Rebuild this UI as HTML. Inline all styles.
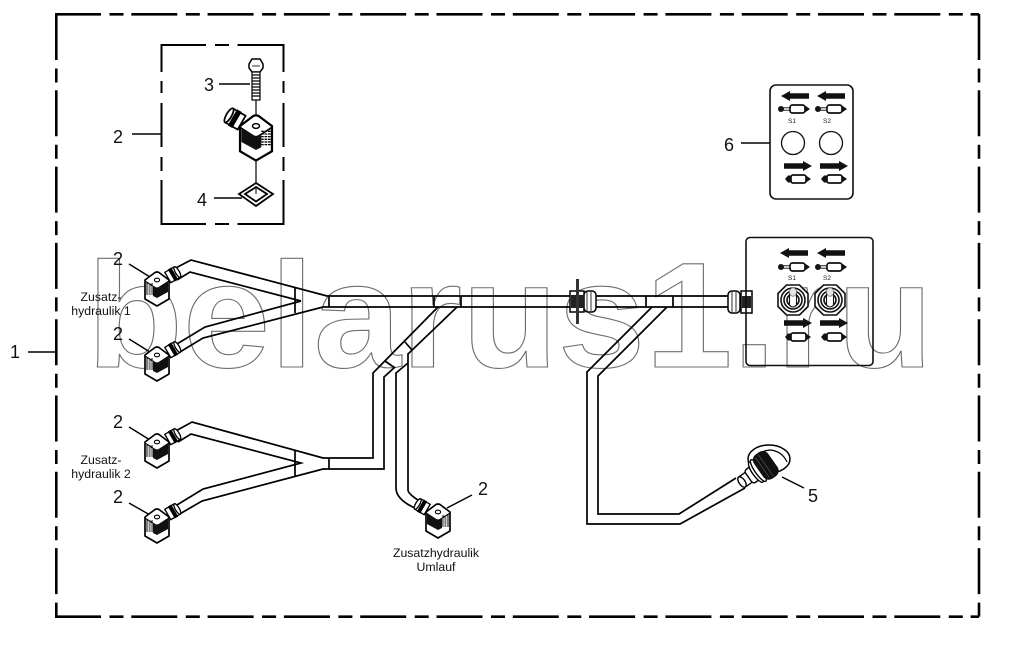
<!DOCTYPE html>
<html><head><meta charset="utf-8"><style>
html,body{margin:0;padding:0;background:#fff}
svg{display:block}
.n{font:18px "Liberation Sans",sans-serif;fill:#111;text-anchor:middle}
.t{font:12.3px "Liberation Sans",sans-serif;fill:#111;text-anchor:middle}
.s{font:6.5px "Liberation Sans",sans-serif;fill:#222;text-anchor:middle}
</style></head><body>
<svg width="1019" height="647" viewBox="0 0 1019 647" xmlns="http://www.w3.org/2000/svg">
<defs>
<g id="con">
  <g transform="translate(16,-5.5) rotate(-30)">
    <rect x="-6" y="-6" width="11" height="12" fill="#fff" stroke="#000" stroke-width="1.3"/>
    <rect x="-2" y="-7" width="4" height="14" fill="#000"/>
    <ellipse cx="5" cy="0" rx="2" ry="6" fill="#fff" stroke="#000" stroke-width="1.3"/>
  </g>
  <path d="M-12 0 L-2 -7.5 Q0 -8.5 2 -7.5 L12 0 V19 L0 26 L-12 19 Z" fill="#fff" stroke="#000" stroke-width="1.7" stroke-linejoin="round"/>
  <path d="M-12 1 L-2 7.5 Q0 8.5 2 7.5 L12 1" fill="none" stroke="#000" stroke-width="1.2"/>
  <path d="M-4 6 L0 8.5 L11 1.5 V12 L0 18 L-4 16 Z" fill="#111"/>
  <path d="M-11 4 H-4 M-11 6 H-4 M-11 8 H-4 M-11 10 H-4 M-11 12 H-4 M-11 14 H-4" stroke="#000" stroke-width="1" stroke-dasharray="2 .6"/>
  <ellipse cx="0" cy="0" rx="2.6" ry="1.8" fill="#fff" stroke="#000" stroke-width="1.1"/>
</g>
<g id="al"><path d="M0 0 L9 -5 V-2.8 H28 V2.8 H9 V5 Z" fill="#111"/></g>
<g id="ar"><path d="M28 0 L19 -5 V-2.8 H0 V2.8 H19 V5 Z" fill="#111"/></g>
<g id="cy">
  <circle cx="3" cy="0" r="3" fill="#111"/>
  <path d="M3 -1.2 H13 M3 1.2 H13" stroke="#222" stroke-width="1"/>
  <rect x="12" y="-4" width="15" height="8" rx="2.5" fill="#fff" stroke="#111" stroke-width="1.7"/>
  <path d="M27 -3.5 L32 0 L27 3.5 Z" fill="#111"/>
</g>
<g id="cz">
  <path d="M0 0 L3 -3.5 H7 V3.5 H3 Z" fill="#111"/>
  <rect x="6" y="-4" width="15" height="8" rx="2" fill="#fff" stroke="#111" stroke-width="1.7"/>
  <path d="M21 -3.5 L26 0 L21 3.5 Z" fill="#111"/>
</g>
<g id="tg">
  <path d="M-6.5 -15 H6.5 L15 -6.5 V6.5 L6.5 15 H-6.5 L-15 6.5 V-6.5 Z" fill="#fff" stroke="#111" stroke-width="1.6"/>
  <circle r="12" fill="none" stroke="#111" stroke-width="1.6"/>
  <circle r="9" fill="none" stroke="#111" stroke-width="1.6"/>
  <circle r="6" fill="none" stroke="#111" stroke-width="1.6"/>
  <path d="M-3.5 -8 H3.5 V5 Q0 9 -3.5 5 Z" fill="#fff" stroke="#111" stroke-width="1.1"/>
  <ellipse cx="0" cy="-8" rx="3.6" ry="4.2" fill="#e4e4e4" stroke="#666" stroke-width=".7"/>
</g>
</defs>

<!-- watermark -->
<text x="87" y="367" font-family="Liberation Sans" font-weight="bold" font-size="150" fill="none" stroke="#6e6e6e" stroke-width="1.1" textLength="846" lengthAdjust="spacingAndGlyphs">belarus1.ru</text>

<!-- outer frame -->
<g stroke="#000" stroke-width="2.6" fill="none" stroke-dasharray="46 8.5 14 7.8">
  <path d="M55 14.3 H979"/>
  <path d="M55 616.7 H979"/>
  <path d="M56.3 14 V617"/>
  <path d="M979 14 V617"/>
</g>
<!-- inner box -->
<g stroke="#000" stroke-width="2" fill="none">
  <path d="M161.5 72 V45 H206 M215 45 H229 M237.5 45 H283.5 V72"/>
  <path d="M161.5 81 V93 M161.5 103 V147 M161.5 157 V171 M283.5 81 V93 M283.5 103 V147 M283.5 157 V171"/>
  <path d="M161.5 180 V224 H206 M215 224 H229 M237.5 224 H283.5 V180"/>
</g>

<!-- leaders -->
<g stroke="#000" stroke-width="1.4" fill="none">
  <path d="M28 352 H56"/>
  <path d="M132 134 H161"/>
  <path d="M219 84 H250"/>
  <path d="M214 198 H242"/>
  <path d="M741 143 H771"/>
  <path d="M782 477 L804 488"/>
  <path d="M129 264 L150 277"/>
  <path d="M129 339 L150 352"/>
  <path d="M129 427 L150 440"/>
  <path d="M129 503 L150 515"/>
  <path d="M472 495 L447 508"/>
</g>

<!-- harness -->
<g stroke="#000" stroke-width="1.7" fill="none" stroke-linejoin="miter">
  <path d="M170 271 L191 260 L327 296 H728"/>
  <path d="M177 280 L190 272 L301 301"/>
  <path d="M167 350 L205 327 L301 301"/>
  <path d="M175 355 L203 338 L323 307 H728"/>
  <path d="M295 288 V313 M329 296 V307 M434 296 V307 M461 296 V307 M646 296 V307 M673 296 V307"/>
  <path d="M438 307 L373 373 V458 H330 L323 458 L192 422 L172 433"/>
  <path d="M457 307 L408 354 V490 Q408 494 421 502"/>
  <path d="M405 342 L412 350 M385 361 L395 368"/>
  <path d="M395 367 L384 377 V469 H323 L202 501 L178 515"/>
  <path d="M408 363 L396 373 V488 Q396 500 417 509"/>
  <path d="M178 442 L191 434 L301 463 L203 489 L172 508"/>
  <path d="M295 451 V477 M329 458 V469"/>
  <path d="M652 307 L587 372 V524 H680 L745 488"/>
  <path d="M667 307 L598 376 V514 H679 L736 478"/>
</g>

<!-- left gland -->
<g stroke="#000" fill="#fff">
  <rect x="570" y="291" width="14" height="21" stroke-width="1.5"/>
  <rect x="571" y="295" width="12" height="13" fill="#222" stroke="none"/>
  <rect x="584" y="291" width="12" height="21" rx="4" stroke-width="1.5"/>
  <path d="M587 292 V311 M591 292 V311" stroke-width=".8"/>
  <rect x="576" y="279" width="3" height="45" fill="#333" stroke="none"/>
</g>
<!-- right gland -->
<g stroke="#000" fill="#fff">
  <rect x="728" y="291" width="12" height="22" rx="4" stroke-width="1.5"/>
  <path d="M732 292 V312 M736 292 V312" stroke-width=".8"/>
  <rect x="741" y="291" width="11" height="22" stroke-width="1.5"/>
  <rect x="742" y="296" width="9" height="12" fill="#222" stroke="none"/>
</g>

<!-- connectors -->
<use href="#con" x="157" y="280"/>
<use href="#con" x="157" y="355"/>
<use href="#con" x="157" y="442"/>
<use href="#con" x="157" y="517"/>
<g transform="translate(438,512) scale(-1,1)"><use href="#con"/></g>

<!-- exploded part -->
<path d="M256 100 V126 M256 160 V194" stroke="#000" stroke-width="1.2"/>
<g transform="translate(256,126) scale(-1.33,1.33)"><use href="#con"/></g>
<g stroke="#000" fill="#fff">
  <path d="M249 64 L252 59 H260 L263 64 V68 L260 72 H252 L249 68 Z" stroke-width="1.5"/>
  <path d="M252 66 H260" stroke-width=".8"/>
  <rect x="252" y="72" width="8" height="28" stroke-width="1.2"/>
  <path d="M252 75 H260 M252 78 H260 M252 81 H260 M252 84 H260 M252 87 H260 M252 90 H260 M252 93 H260 M252 96 H260" stroke-width="1.3"/>
  <path d="M239 194 L256 183 L273 194 L256 206 Z" stroke-width="1.8"/>
  <path d="M245 194 L256 187 L267 194 L256 201.5 Z" stroke-width="1.8"/>
</g>
<path d="M256 187 V194" stroke="#000" stroke-width="1"/>

<!-- part 5 -->
<g stroke="#000" fill="#fff" stroke-width="1.5">
  <ellipse cx="769" cy="459" rx="21" ry="14"/>
  <path d="M753 460 Q758 451 770 450 Q782 451 787 462" fill="none" stroke-width="1.2"/>
</g>
<g transform="translate(742,482) rotate(-35)" stroke="#000" fill="#fff" stroke-width="1.4">
  <rect x="0" y="-6" width="9" height="12"/>
  <ellipse cx="0" cy="0" rx="3" ry="6"/>
  <rect x="8" y="-8" width="8" height="16" rx="3"/>
  <ellipse cx="17" cy="0" rx="3.5" ry="12"/>
  <ellipse cx="20" cy="0" rx="3.5" ry="13"/>
  <rect x="21" y="-14" width="16" height="28" rx="6" fill="#111" stroke="#111"/>
  <path d="M25 -12 V12 M29 -13 V13" stroke="#666" stroke-width=".6"/>
</g>

<!-- panel 6 -->
<rect x="770" y="85" width="83" height="114" rx="6" fill="#fff" stroke="#111" stroke-width="1.6"/>
<use href="#al" x="781" y="96"/><use href="#al" x="817" y="96"/>
<use href="#cy" x="778" y="109"/><use href="#cy" x="815" y="109"/>
<text class="s" x="792" y="123">S1</text><text class="s" x="827" y="123">S2</text>
<circle cx="793" cy="143" r="11.5" fill="none" stroke="#111" stroke-width="1.3"/>
<circle cx="831" cy="143" r="11.5" fill="none" stroke="#111" stroke-width="1.3"/>
<use href="#ar" x="784" y="166"/><use href="#ar" x="820" y="166"/>
<use href="#cz" x="785" y="179"/><use href="#cz" x="821" y="179"/>

<!-- panel switch -->
<rect x="746" y="237.5" width="127" height="128" rx="4" fill="none" stroke="#111" stroke-width="1.6"/>
<use href="#al" x="780" y="253"/><use href="#al" x="817" y="253"/>
<use href="#cy" x="778" y="267"/><use href="#cy" x="815" y="267"/>
<text class="s" x="792" y="280">S1</text><text class="s" x="827" y="280">S2</text>
<use href="#tg" x="793" y="300"/><use href="#tg" x="830" y="300"/>
<use href="#ar" x="784" y="323"/><use href="#ar" x="820" y="323"/>
<use href="#cz" x="785" y="337"/><use href="#cz" x="821" y="337"/>

<!-- labels -->
<text class="n" x="15" y="358">1</text>
<text class="n" x="118" y="143">2</text>
<text class="n" x="209" y="91">3</text>
<text class="n" x="202" y="206">4</text>
<text class="n" x="729" y="151">6</text>
<text class="n" x="813" y="502">5</text>
<text class="n" x="118" y="265">2</text>
<text class="n" x="118" y="340">2</text>
<text class="n" x="118" y="428">2</text>
<text class="n" x="118" y="503">2</text>
<text class="n" x="483" y="495">2</text>
<text class="t" x="101" y="301">Zusatz-</text>
<text class="t" x="101" y="315">hydraulik 1</text>
<text class="t" x="101" y="464">Zusatz-</text>
<text class="t" x="101" y="478">hydraulik 2</text>
<text class="t" x="436" y="557">Zusatzhydraulik</text>
<text class="t" x="436" y="571">Umlauf</text>
</svg>
</body></html>
